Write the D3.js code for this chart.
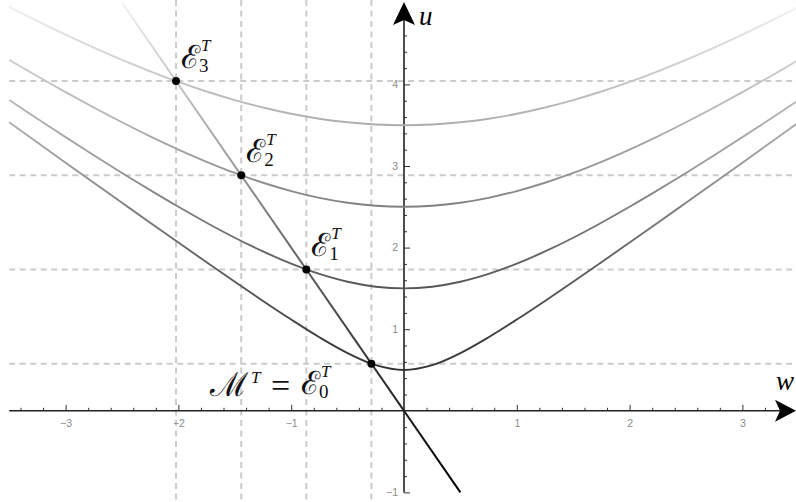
<!DOCTYPE html>
<html><head><meta charset="utf-8">
<script src="https://cdn.jsdelivr.net/npm/d3@7"></script>
<style>
html,body{margin:0;padding:0;background:#fff;}
svg{display:block;}
</style></head>
<body>
<svg id="chart" width="796" height="502"></svg>
<script>
// ---- data ----
const wSamples = [-3.5,-3.25,-3,-2.75,-2.5,-2.25,-2,-1.75,-1.5,-1.25,-1,-0.75,-0.5,-0.25,0,0.25,0.5,0.75,1,1.25,1.5,1.75,2,2.25,2.5,2.75,3,3.25,3.5];
const level0 = [3.536,3.288,3.041,2.795,2.550,2.305,2.062,1.820,1.581,1.346,1.118,0.901,0.707,0.559,0.5,0.559,0.707,0.901,1.118,1.346,1.581,1.820,2.062,2.305,2.550,2.795,3.041,3.288,3.536];
const level1 = [3.808,3.579,3.354,3.132,2.915,2.704,2.5,2.305,2.121,1.953,1.803,1.677,1.581,1.521,1.5,1.521,1.581,1.677,1.803,1.953,2.121,2.305,2.5,2.704,2.915,3.132,3.354,3.579,3.808];
const level2 = [4.301,4.100,3.905,3.717,3.536,3.363,3.202,3.052,2.915,2.795,2.693,2.610,2.550,2.512,2.5,2.512,2.550,2.610,2.693,2.795,2.915,3.052,3.202,3.363,3.536,3.717,3.905,4.100,4.301];
const level3 = [4.950,4.776,4.610,4.451,4.301,4.161,4.031,3.913,3.808,3.717,3.640,3.579,3.536,3.509,3.5,3.509,3.536,3.579,3.640,3.717,3.808,3.913,4.031,4.161,4.301,4.451,4.610,4.776,4.950];
const levels = [level0, level1, level2, level3];
const lineW = [-2.5, 0.5];
const lineU = [5.0, -1.0];
const pointW = [-0.289, -0.866, -1.443, -2.021];
const pointU = [0.577, 1.732, 2.887, 4.041];
const xMajorTicks = [-3,-2,-1,1,2,3];
const yMajorTicks = [-1,1,2,3,4];
const subLabels = ["0","1","2","3"];

// ---- scales ----
const svg = d3.select("#chart");
const x = d3.scaleLinear().domain([-3.5, 3.5]).range([404 - 3.5*112.8, 404 + 3.5*112.8]);
const y = d3.scaleLinear().domain([-1, 5]).range([410.8 + 81.6, 410.8 - 5*81.6]);

// gradient (fade with height)
const defs = svg.append("defs");
const grad = defs.append("linearGradient").attr("id","fade")
  .attr("gradientUnits","userSpaceOnUse")
  .attr("x1",0).attr("x2",0).attr("y1",y(-1)).attr("y2",y(5));
const stops = [[-1,"#000"],[0,"#222"],[1,"#444"],[2,"#686868"],[3,"#999"],[4,"#c2c2c2"],[5,"#f2f2f2"]];
stops.forEach(([u,c]) => grad.append("stop").attr("offset",(u+1)/6).attr("stop-color",c));

// ---- dashed guide lines ----
const gGrid = svg.append("g").attr("stroke","#cbcbcb").attr("stroke-width",2).attr("stroke-dasharray","6,4.5");
pointW.forEach(w => gGrid.append("line").attr("x1",x(w)).attr("x2",x(w)).attr("y1",0).attr("y2",502));
pointU.forEach(u => gGrid.append("line").attr("x1",x(-3.5)).attr("x2",796).attr("y1",y(u)).attr("y2",y(u)));

// ---- axes ----
const minorX = d3.range(-17,18).map(i=>i*0.2).filter(v=>Math.abs(v-Math.round(v))>1e-6);
const minorY = d3.range(-5,25).map(i=>i*0.2).filter(v=>Math.abs(v-Math.round(v))>1e-6);

const gx = svg.append("g").attr("transform",`translate(0,${y(0)})`);
gx.append("g").call(d3.axisBottom(x).tickValues(minorX).tickSizeInner(-3).tickSizeOuter(0).tickFormat(""))
  .call(g=>g.select(".domain").remove());
gx.append("g").call(d3.axisBottom(x).tickValues(xMajorTicks).tickSizeInner(-6).tickSizeOuter(0).tickPadding(9)
    .tickFormat(d=>d<0?"\u2212"+(-d):d))
  .call(g=>g.select(".domain").remove());
gx.append("line").attr("x1",x(-3.5)).attr("x2",785).attr("stroke","#222").attr("stroke-width",1.6);
gx.selectAll(".tick line").attr("stroke","#333");
gx.selectAll(".tick text").attr("fill","#8a8a8a").attr("font-family","Liberation Sans, Arial, sans-serif").attr("font-size",10.5);

const gy = svg.append("g").attr("transform",`translate(${x(0)},0)`);
gy.append("g").call(d3.axisLeft(y).tickValues(minorY.filter(v=>v>-1 && v<4.8)).tickSizeInner(-3).tickSizeOuter(0).tickFormat(""))
  .call(g=>g.select(".domain").remove());
gy.append("g").call(d3.axisLeft(y).tickValues(yMajorTicks).tickSizeInner(-6).tickSizeOuter(0).tickPadding(6)
    .tickFormat(d=>d<0?"\u2212"+(-d):d))
  .call(g=>g.select(".domain").remove());
gy.append("line").attr("y1",y(-1)).attr("y2",15).attr("stroke","#222").attr("stroke-width",1.6);
gy.selectAll(".tick line").attr("stroke","#333");
gy.selectAll(".tick text").attr("fill","#8a8a8a").attr("font-family","Liberation Sans, Arial, sans-serif").attr("font-size",10.5);

// arrowheads
svg.append("path").attr("fill","#000")
  .attr("d",`M796,${y(0)} L775,${y(0)-11} L780,${y(0)} L775,${y(0)+11} Z`);
svg.append("path").attr("fill","#000")
  .attr("d",`M${x(0)},2 L${x(0)-11},25 L${x(0)},20 L${x(0)+11},25 Z`);

// axis names
svg.append("text").attr("x",419).attr("y",25).text("u")
  .attr("font-family","Liberation Serif, DejaVu Serif, serif").attr("font-style","italic").attr("font-size",27);
svg.append("text").attr("x",776).attr("y",390).text("w")
  .attr("font-family","Liberation Serif, DejaVu Serif, serif").attr("font-style","italic").attr("font-size",27);

// ---- curves ----
const lineGen = d3.line().x((d,i)=>x(wSamples[i])).y(d=>y(d)).curve(d3.curveCatmullRom.alpha(0.5));
svg.append("g").selectAll("path").data(levels).join("path")
  .attr("d", d=>lineGen(d)).attr("fill","none")
  .attr("stroke","url(#fade)").attr("stroke-width",1.9);

svg.append("path")
  .attr("d", d3.line()([[x(lineW[0]),y(lineU[0])],[x(lineW[1]),y(lineU[1])]]))
  .attr("fill","none").attr("stroke","url(#fade)").attr("stroke-width",2);

// ---- points ----
svg.append("g").selectAll("circle").data(pointW).join("circle")
  .attr("cx",d=>x(d)).attr("cy",(d,i)=>y(pointU[i])).attr("r",4).attr("fill","#000");

// ---- labels (one text element per label) ----
const scriptFam = "Liberation Serif, serif";
const romFam = "Liberation Serif, Times New Roman, serif";
const labG = svg.append("g").attr("fill","#111");
function scriptLabel(g, ex, ey, sub){
  const t = g.append("text");
  const e = t.append("tspan").attr("x",ex).attr("y",ey).attr("font-family",scriptFam).attr("font-size",32).text("\u2130");
  const len = e.node().getComputedTextLength();
  const rx = ex + Math.min(len, 24);
  t.append("tspan").attr("x",rx+1).attr("y",ey-17).attr("font-family",romFam).attr("font-style","italic").attr("font-size",17).text("T");
  t.append("tspan").attr("x",rx-1).attr("y",ey+4).attr("font-family",romFam).attr("font-size",19).text(sub);
  return t;
}
[1,2,3].forEach(i=>{
  const px = x(pointW[i]), py = y(pointU[i]);
  scriptLabel(labG, px+5, py-13, subLabels[i]);
});
// M^T = E_0^T
const m = labG.append("text");
m.append("tspan").attr("x",210).attr("y",396).attr("font-family",scriptFam).attr("font-size",33).text("\u2133");
m.append("tspan").attr("x",251).attr("y",383).attr("font-family",romFam).attr("font-style","italic").attr("font-size",17).text("T");
m.append("tspan").attr("x",271).attr("y",397).attr("font-family",romFam).attr("font-size",34).text("=");
scriptLabel(labG, 301, 394, subLabels[0]);
</script>
</body></html>
